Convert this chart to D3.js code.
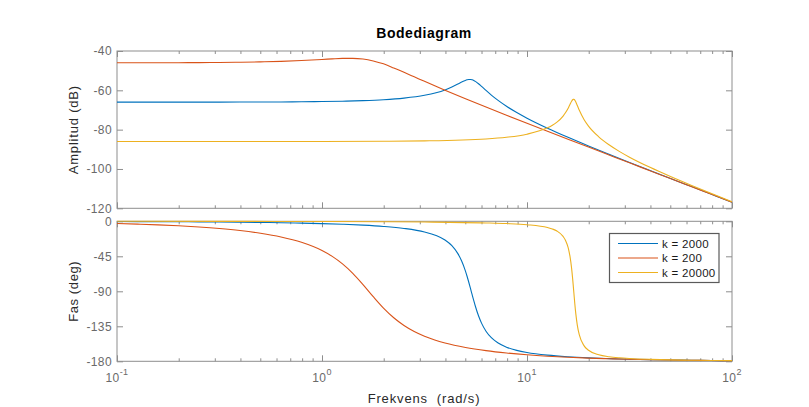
<!DOCTYPE html>
<html>
<head>
<meta charset="utf-8">
<script src="https://cdn.jsdelivr.net/npm/d3@7"></script>
<style>
  html, body { margin: 0; padding: 0; background: #fff; }
  svg { display: block; font-family: "Liberation Sans", Arial, Helvetica, sans-serif; }
</style>
</head>
<body>
<svg id="chart" width="809" height="407"></svg>
<script>
// ---------------- data ----------------
const seriesLabels = ["k = 2000", "k = 200", "k = 20000"];
const seriesColors = ["#0072BD", "#D95319", "#EDB120"];

const freqK2000 = [0.1,0.1259,0.1585,0.1995,0.2512,0.3162,0.3981,0.5012,0.631,0.7943,1,1.259,1.585,1.995,2.512,3.162,3.6,3.981,4.3,4.6,4.8,5.0,5.1,5.2,5.3,5.4,5.5,5.6,5.8,6.0,6.31,6.7,7.2,7.943,8.913,10,12.59,15.85,19.95,25.12,31.62,39.81,50.12,63.1,79.43,100];
const magK2000 = [-66.02,-66.02,-66.01,-66.01,-66.00,-65.99,-65.97,-65.95,-65.90,-65.83,-65.72,-65.54,-65.25,-64.78,-63.96,-62.53,-61.22,-59.78,-58.34,-56.82,-55.80,-54.95,-54.66,-54.50,-54.50,-54.67,-55.00,-55.46,-56.65,-58.00,-60.07,-62.44,-65.01,-68.11,-71.29,-74.15,-79.26,-83.90,-88.28,-92.51,-96.66,-100.75,-104.81,-108.84,-112.86,-116.88];
const phaseK2000 = [-0.29,-0.36,-0.45,-0.57,-0.72,-0.91,-1.15,-1.45,-1.83,-2.33,-2.97,-3.81,-4.97,-6.61,-9.16,-13.67,-18.23,-24.08,-31.36,-41.56,-51.11,-63.43,-70.63,-78.35,-86.36,-94.36,-102.06,-109.22,-121.46,-130.91,-141.27,-149.61,-156.15,-161.81,-165.95,-168.69,-172.12,-174.19,-175.59,-176.59,-177.34,-177.91,-178.35,-178.69,-178.97,-179.18];

const freqK200 = [0.1,0.1259,0.1585,0.1995,0.2512,0.3162,0.3981,0.5012,0.631,0.7943,1,1.122,1.259,1.413,1.585,1.778,1.995,2.239,2.512,2.818,3.162,3.548,3.981,5.012,6.31,7.943,10,12.59,15.85,19.95,25.12,31.62,39.81,50.12,63.1,79.43,100];
const magK200 = [-46.00,-45.99,-45.97,-45.94,-45.90,-45.83,-45.71,-45.54,-45.27,-44.86,-44.30,-44.00,-43.76,-43.73,-44.10,-45.06,-46.53,-48.63,-50.85,-53.14,-55.44,-57.71,-59.94,-64.28,-68.51,-72.65,-76.74,-80.80,-84.84,-88.86,-92.88,-96.89,-100.89,-104.90,-108.90,-112.90,-116.90];
const phaseK200 = [-2.87,-3.62,-4.57,-5.78,-7.32,-9.31,-11.90,-15.36,-20.14,-27.01,-37.57,-45.08,-54.71,-66.88,-81.32,-96.85,-111.53,-123.96,-133.89,-141.63,-147.69,-152.49,-156.36,-162.17,-166.29,-169.33,-171.63,-173.41,-174.79,-175.88,-176.73,-177.41,-177.94,-178.37,-178.70,-178.97,-179.18];

const freqK20000 = [0.1,0.3162,1,1.995,3.162,6.31,7.943,10,12.59,13.3,14,15,15.4,15.85,16.0,16.2,16.5,16.7,16.8,16.9,17.0,17.1,17.3,17.6,18,19,19.95,22.39,25.12,28.18,31.62,39.81,50.12,63.1,79.43,100];
const magK20000 = [-86.02,-86.02,-85.99,-85.90,-85.71,-84.72,-83.86,-82.30,-79.08,-77.77,-76.17,-73.08,-71.44,-69.22,-68.38,-67.23,-65.58,-64.80,-64.60,-64.56,-64.69,-64.97,-65.91,-67.73,-70.18,-74.97,-78.19,-83.66,-87.71,-91.06,-94.00,-99.18,-103.86,-108.26,-112.50,-116.65];
const phaseK20000 = [-0.03,-0.09,-0.29,-0.58,-0.94,-2.10,-2.92,-4.40,-8.05,-9.90,-12.57,-19.44,-24.38,-33.27,-37.57,-44.84,-60.27,-74.04,-81.76,-89.75,-97.71,-105.33,-118.78,-133.72,-146.11,-160.17,-165.77,-171.56,-174.07,-175.47,-176.38,-177.49,-178.16,-178.60,-178.92,-179.16];

const freqTicks = [0.1, 1, 10, 100];
const freqTickExponents = ["-1", "0", "1", "2"];
const magTicks = [-120, -100, -80, -60, -40];
const phaseTicks = [-180, -135, -90, -45, 0];

const titleText = "Bodediagram";
const magLabel = "Amplitud (dB)";
const phaseLabel = "Fas (deg)";
const freqLabel = "Frekvens  (rad/s)";

// ---------------- layout ----------------
const L = 117, R = 732;
const magTop = 51, magBottom = 208.3;
const phTop = 221.3, phBottom = 361.3;
const axisColor = "#8e8e8e";
const tickTextColor = "#6a6a6a";
const labelColor = "#2a2a2a";

const svg = d3.select("#chart");

const x = d3.scaleLog().domain([0.1, 100]).range([L, R]);
const yMag = d3.scaleLinear().domain([-120, -40]).range([magBottom, magTop]);
const yPh = d3.scaleLinear().domain([-180, 0]).range([phBottom, phTop]);

const minorTicks = [];
[0.1, 1, 10].forEach(d => { for (let m = 2; m <= 9; m++) minorTicks.push(d * m); });

function drawPanel(yScale, top, bottom, yTicks) {
  const g = svg.append("g");
  // box
  g.append("rect").attr("x", L).attr("y", top).attr("width", R - L).attr("height", bottom - top)
    .attr("fill", "none").attr("stroke", axisColor).attr("stroke-width", 1);

  const style = sel => {
    sel.select(".domain").remove();
    sel.selectAll(".tick line").attr("stroke", axisColor).attr("stroke-width", 1);
  };
  // x major/minor ticks bottom & top
  g.append("g").attr("transform", `translate(0,${bottom})`)
    .call(d3.axisBottom(x).tickValues(freqTicks).tickSize(-6).tickFormat("")).call(style);
  g.append("g").attr("transform", `translate(0,${bottom})`)
    .call(d3.axisBottom(x).tickValues(minorTicks).tickSize(-3).tickFormat("")).call(style);
  g.append("g").attr("transform", `translate(0,${top})`)
    .call(d3.axisTop(x).tickValues(freqTicks).tickSize(-6).tickFormat("")).call(style);
  g.append("g").attr("transform", `translate(0,${top})`)
    .call(d3.axisTop(x).tickValues(minorTicks).tickSize(-3).tickFormat("")).call(style);
  // y ticks left (labelled) and right
  const left = g.append("g").attr("transform", `translate(${L},0)`)
    .call(d3.axisLeft(yScale).tickValues(yTicks).tickSize(-6).tickPadding(5).tickFormat(d3.format("d")))
    .call(style);
  left.selectAll(".tick text")
    .attr("fill", tickTextColor)
    .attr("font-size", 12)
    .attr("letter-spacing", 0.4)
    .attr("font-family", "Liberation Sans, Arial, sans-serif")
    .text(d => d === 0 ? "0" : String(d));
  g.append("g").attr("transform", `translate(${R},0)`)
    .call(d3.axisRight(yScale).tickValues(yTicks).tickSize(-6).tickFormat("")).call(style);
  return g;
}

drawPanel(yMag, magTop, magBottom, magTicks);
drawPanel(yPh, phTop, phBottom, phaseTicks);

// x tick labels with superscripts
freqTicks.forEach((v, i) => {
  const t = svg.append("text")
    .attr("x", x(v)).attr("y", 382)
    .attr("text-anchor", "middle")
    .attr("fill", tickTextColor)
    .attr("font-size", 12)
    .attr("letter-spacing", 0.4);
  t.append("tspan").text("10");
  t.append("tspan").attr("dy", -7).attr("font-size", 9).text(freqTickExponents[i]);
});

// ---------------- curves ----------------
const series = [
  { freq: freqK2000, mag: magK2000, phase: phaseK2000 },
  { freq: freqK200, mag: magK200, phase: phaseK200 },
  { freq: freqK20000, mag: magK20000, phase: phaseK20000 }
];

series.forEach((s, i) => {
  const pts = s.freq.map((f, j) => ({ f, m: s.mag[j], p: s.phase[j] }));
  const magLine = d3.line().x(d => x(d.f)).y(d => yMag(d.m)).curve(d3.curveMonotoneX);
  const phLine = d3.line().x(d => x(d.f)).y(d => yPh(d.p)).curve(d3.curveMonotoneX);
  svg.append("path").datum(pts).attr("d", magLine)
    .attr("fill", "none").attr("stroke", seriesColors[i]).attr("stroke-width", 1.1);
  svg.append("path").datum(pts).attr("d", phLine)
    .attr("fill", "none").attr("stroke", seriesColors[i]).attr("stroke-width", 1.1);
});

// ---------------- texts ----------------
svg.append("text").attr("x", 424).attr("y", 37.5)
  .attr("text-anchor", "middle").attr("font-weight", "bold")
  .attr("font-size", 14).attr("letter-spacing", 0.55).attr("fill", "#000")
  .text(titleText);

svg.append("text")
  .attr("transform", `translate(78,${(magTop + magBottom) / 2}) rotate(-90)`)
  .attr("text-anchor", "middle").attr("font-size", 13).attr("letter-spacing", 0.8)
  .attr("fill", labelColor).text(magLabel);

svg.append("text")
  .attr("transform", `translate(78,${(phTop + phBottom) / 2}) rotate(-90)`)
  .attr("text-anchor", "middle").attr("font-size", 13).attr("letter-spacing", 0.6)
  .attr("fill", labelColor).text(phaseLabel);

svg.append("text").attr("x", 424).attr("y", 403)
  .attr("text-anchor", "middle").attr("font-size", 13).attr("letter-spacing", 0.85)
  .style("white-space", "pre")
  .attr("fill", labelColor).text(freqLabel);

// ---------------- legend ----------------
const lg = svg.append("g");
lg.append("rect").attr("x", 609.5).attr("y", 233.5).attr("width", 109.5).attr("height", 49)
  .attr("fill", "#fff").attr("stroke", "#5a5a5a").attr("stroke-width", 1.2);
seriesLabels.forEach((lab, i) => {
  const yy = 243.5 + i * 14.5;
  lg.append("line").attr("x1", 618).attr("x2", 658).attr("y1", yy).attr("y2", yy)
    .attr("stroke", seriesColors[i]).attr("stroke-width", 1.1);
  lg.append("text").attr("x", 662).attr("y", yy).attr("dy", "0.36em")
    .attr("font-size", 11.5).attr("letter-spacing", 0.3).attr("fill", "#1a1a1a").text(lab);
});
</script>
</body>
</html>
